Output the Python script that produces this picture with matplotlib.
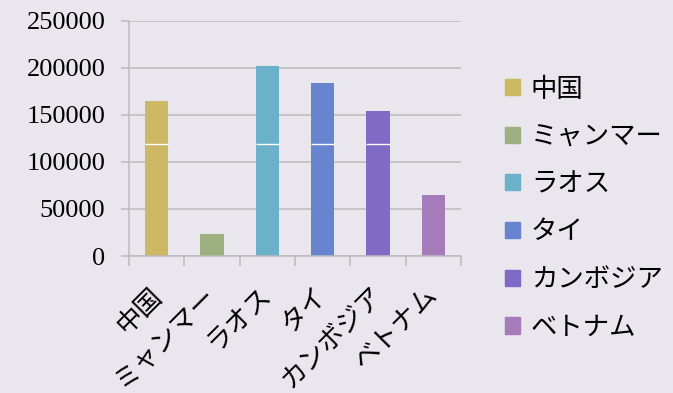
import numpy as np
import matplotlib
matplotlib.use('Agg')
import matplotlib.pyplot as plt
from matplotlib.patches import Patch
from matplotlib.transforms import ScaledTranslation

# data
countries = ['中国', 'ミャンマー', 'ラオス', 'タイ', 'カンボジア', 'ベトナム']
values = [165000, 23500, 202000, 184000, 154500, 65000]
colors = ['#CDB864', '#9DB082', '#6BB1C9', '#6685CE', '#7F6BC6', '#A57BBA']
yticks = [0, 50000, 100000, 150000, 200000, 250000]
seam = 119000  # thin white line that cuts across the tall bars

plt.rcParams['font.family'] = ['Liberation Serif', 'Noto Sans CJK JP']
bg = '#E9E6EE'
grid_c = '#BBBBBB'

fig = plt.figure(figsize=(6.73, 3.93), dpi=100, facecolor=bg)
ax = fig.add_axes([0.1917, 0.3486, 0.4933, 0.598])
ax.set_facecolor(bg)

x = np.arange(len(countries))
w = 0.42
ax.bar(x, values, width=w, color=colors, zorder=3)
for xi, v in zip(x, values):
    if v > seam:
        ax.hlines(seam, xi - w / 2, xi + w / 2, color='white', lw=1.0, zorder=4)

ax.set_xlim(-0.5, len(countries) - 0.5)
ax.set_ylim(0, 250000)
ax.set_yticks(yticks)
ax.set_yticklabels([str(t) for t in yticks], fontsize=19)
ax.yaxis.grid(True, color=grid_c, lw=1.1, zorder=1)
ax.tick_params(axis='y', length=6, width=1.1, color=grid_c, pad=11)

ax.set_xticks(x)
ax.set_xticks(np.arange(len(countries) + 1) - 0.5, minor=True)
ax.tick_params(axis='x', which='major', length=0, pad=20)
ax.tick_params(axis='x', which='minor', length=7, width=1.1, color=grid_c)
ax.set_xticklabels(countries, fontsize=19, rotation=45, ha='right',
                   rotation_mode='anchor')
shift = ScaledTranslation(-0.07, 0, fig.dpi_scale_trans)
for lab in ax.get_xticklabels():
    lab.set_transform(lab.get_transform() + shift)

for s in ['top', 'right']:
    ax.spines[s].set_visible(False)
for s in ['left', 'bottom']:
    ax.spines[s].set_color(grid_c)
    ax.spines[s].set_linewidth(1.1)
ax.spines['bottom'].set_zorder(5)

handles = [Patch(color=c, label=n) for c, n in zip(colors, countries)]
fig.legend(handles=handles, loc='upper left', bbox_to_anchor=(0.735, 0.83),
           frameon=False, fontsize=19, handlelength=0.57, handleheight=0.57,
           handletextpad=0.4, labelspacing=0.95, borderaxespad=0)

fig.savefig('out.png', dpi=100, facecolor=bg)
